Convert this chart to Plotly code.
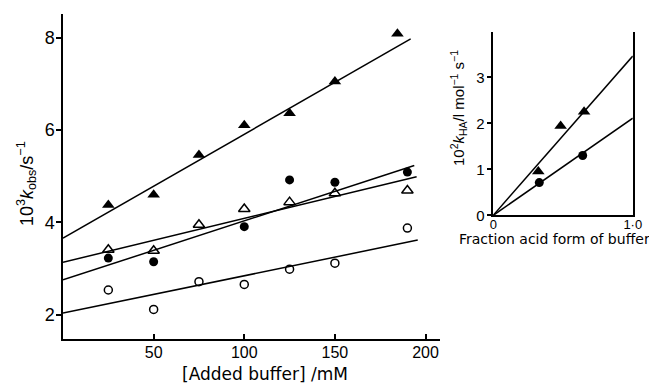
import plotly.graph_objects as go

# ---- main panel data: [Added buffer] / mM  vs 10^3 k_obs / s^-1
ftri_x = [25, 50, 75, 100, 125, 150, 184.5]
ftri_y = [4.38, 4.60, 5.46, 6.10, 6.36, 7.05, 8.08]
otri_x = [25, 50, 75, 100, 125, 150, 190]
otri_y = [3.41, 3.39, 3.95, 4.29, 4.44, 4.63, 4.69]
fcir_x = [25, 50, 100, 125, 150, 190]
fcir_y = [3.23, 3.15, 3.91, 4.92, 4.87, 5.09]
ocir_x = [25, 50, 75, 100, 125, 150, 190]
ocir_y = [2.54, 2.12, 2.72, 2.66, 2.99, 3.12, 3.88]

# fitted lines: intercept, slope, end of line (mM)
line_intercepts = [3.66, 3.14, 2.76, 2.04]
line_slopes = [0.02247, 0.00948, 0.01275, 0.00807]
line_xend = [191.8, 195.1, 193.8, 195.7]

main_xticks = [50, 100, 150, 200]
main_yticks = [2, 4, 6, 8]

# ---- inset data: fraction acid form vs 10^2 k_HA
in_tri_x = [0.323, 0.483, 0.651]
in_tri_y = [0.95, 1.94, 2.25]
in_cir_x = [0.33, 0.641]
in_cir_y = [0.71, 1.30]
in_line_slopes = [3.46, 2.11]
in_yticks = [0, 1, 2, 3]
in_xticks = [0, 1.0]
in_xticktext = ["0", "1·0"]

FONT = "Liberation Sans"
TFONT = "DejaVu Sans"
fig = go.Figure()

def mk(x, y, sym, xa="x", ya="y", size=9, open_=False):
    return go.Scatter(
        x=x, y=y, mode="markers", xaxis=xa, yaxis=ya, showlegend=False,
        marker=dict(symbol=sym, size=size, color="black",
                    line=dict(color="black", width=1.5 if open_ else 0)),
    )

# main lines
for a, b, xe in zip(line_intercepts, line_slopes, line_xend):
    fig.add_trace(go.Scatter(x=[0, xe], y=[a, a + b * xe], mode="lines",
                             line=dict(color="black", width=1.5),
                             showlegend=False, xaxis="x", yaxis="y"))
fig.add_trace(mk(ftri_x, ftri_y, "triangle-up", size=11))
fig.add_trace(mk(otri_x, otri_y, "triangle-up-open", size=10, open_=True))
fig.add_trace(mk(fcir_x, fcir_y, "circle", size=9))
fig.add_trace(mk(ocir_x, ocir_y, "circle-open", size=8, open_=True))

# inset lines
for s in in_line_slopes:
    fig.add_trace(go.Scatter(x=[0, 1.0], y=[0, s], mode="lines",
                             line=dict(color="black", width=1.5),
                             showlegend=False, xaxis="x2", yaxis="y2"))
fig.add_trace(mk(in_tri_x, in_tri_y, "triangle-up", "x2", "y2", size=11))
fig.add_trace(mk(in_cir_x, in_cir_y, "circle", "x2", "y2", size=9))

axis_common = dict(showgrid=False, zeroline=False, showline=True,
                   linecolor="black", linewidth=1.5, tickcolor="black",
                   tickwidth=1.5, automargin=False)

ann_common = dict(xref="paper", yref="paper", showarrow=False,
                  xanchor="center", yanchor="middle")

fig.update_layout(
    width=649, height=387,
    margin=dict(l=0, r=0, t=0, b=0, autoexpand=False),
    paper_bgcolor="white", plot_bgcolor="white",
    font=dict(family=FONT, color="black"),
    xaxis=dict(domain=[0.0971, 0.678], range=[0, 208], anchor="y",
               tickvals=main_xticks, ticks="inside", ticklen=5,
               ticklabelstandoff=-2,
               tickfont=dict(size=16), **axis_common),
    yaxis=dict(domain=[0.124, 0.964], range=[1.48, 8.51], anchor="x",
               tickvals=main_yticks, ticks="outside", ticklen=5,
               ticklabelstandoff=-2,
               tickfont=dict(size=18), **axis_common),
    xaxis2=dict(domain=[0.760, 0.975], range=[0, 1.0], anchor="y2",
                tickvals=in_xticks, ticktext=in_xticktext, ticks="",
                ticklabelstandoff=-4,
                tickfont=dict(size=13), **axis_common),
    yaxis2=dict(domain=[0.4437, 0.918], range=[0, 3.99], anchor="x2",
                tickvals=in_yticks, ticks="outside", ticklen=4,
                mirror=True, tickfont=dict(size=15), **axis_common),
    annotations=[
        dict(text="[Added buffer] /mM", x=265 / 649, y=1 - 374 / 387,
             font=dict(size=17, family=TFONT), **ann_common),
        dict(text="10<sup>3</sup><i>k</i><sub>obs</sub>/s<sup>−1</sup>",
             x=26 / 649, y=1 - 184 / 387, textangle=-90,
             font=dict(size=18), **ann_common),
        dict(text="10<sup>2</sup><i>k</i><sub>HA</sub>/l mol<sup>−1</sup> s<sup>−1</sup>",
             x=458 / 649, y=1 - 108 / 387, textangle=-90,
             font=dict(size=15), **ann_common),
        dict(text="Fraction acid form of buffer", x=554 / 649,
             y=1 - 239 / 387, font=dict(size=14, family=TFONT),
             **ann_common),
    ],
)

fig.write_html("out.html")
